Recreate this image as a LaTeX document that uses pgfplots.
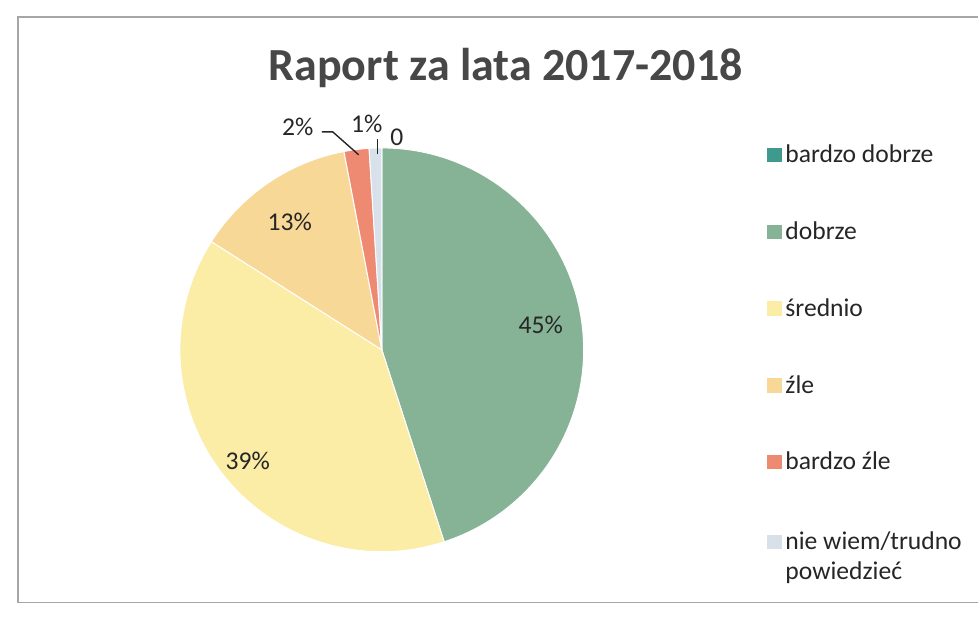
\documentclass[border=0pt]{standalone}
\usepackage{pgfplots}
\pgfplotsset{compat=1.18}
\usepackage{fontspec}
\setmainfont{Carlito}

\definecolor{cBD}{HTML}{3F9A8E}
\definecolor{cD}{HTML}{86B396}
\definecolor{cS}{HTML}{FBECA6}
\definecolor{cZ}{HTML}{F8D897}
\definecolor{cBZ}{HTML}{EE8A72}
\definecolor{cNW}{HTML}{D8E0EA}
\definecolor{txt}{HTML}{262626}

\begin{document}
\begin{tikzpicture}
\begin{axis}[
  width=489.5pt,height=309pt,scale only axis,
  xmin=0,xmax=979,ymin=0,ymax=618,
  hide axis,clip=false,
  font=\fontsize{12.8}{15}\selectfont,
  legend style={at={(0.7835,0.772)},anchor=north west,draw=none,
    inner sep=0pt,row sep=24pt,
    cells={anchor=base west,text=txt}},
  legend image code/.code={\fill[#1] (0,0.02cm) rectangle (0.24cm,0.26cm);},
]
% pie: values in percent, clockwise from the top
\gdef\pieA{90}
\foreach \v/\col in {0/cBD,45/cD,39/cS,13/cZ,2/cBZ,1/cNW}{
  \pgfmathsetmacro\pieB{\pieA-3.6*\v}
  \edef\temp{\noexpand\fill[\col,draw=white,line width=0.5pt]
    (axis cs:382,268) -- ++(\pieA:101pt)
    arc[start angle=\pieA,end angle=\pieB,radius=101pt] -- cycle;}
  \temp
  \xdef\pieA{\pieB}
}

\addlegendimage{cBD}\addlegendentry{bardzo dobrze}
\addlegendimage{cD}\addlegendentry{dobrze}
\addlegendimage{cS}\addlegendentry{średnio}
\addlegendimage{cZ}\addlegendentry{źle}
\addlegendimage{cBZ}\addlegendentry{bardzo źle}
\addlegendimage{cNW}\addlegendentry{\begin{tabular}[t]{@{}l@{}}nie wiem/trudno\\powiedzieć\end{tabular}}

% data labels
\node[text=txt] at (axis cs:541,293) {45\%};
\node[text=txt] at (axis cs:248,157) {39\%};
\node[text=txt] at (axis cs:290,396) {13\%};
\node[text=txt] at (axis cs:298,491) {2\%};
\node[text=txt] at (axis cs:367,494) {1\%};
\node[text=txt] at (axis cs:397,481) {0};
\draw[txt,line width=0.7pt] (axis cs:322,486) -- (axis cs:333,486) -- (axis cs:359,463);
\draw[txt,line width=0.7pt] (axis cs:378,479) -- (axis cs:378,464);

% title
\node[text=txt!85!white,font=\bfseries\fontsize{23}{28}\selectfont] at (axis cs:506,550) {Raport za lata 2017-2018};

% chart frame
\draw[gray!70,line width=0.6pt] (axis cs:979,601) -- (axis cs:18,601) -- (axis cs:18,15) -- (axis cs:979,15);
\path (axis cs:0,0) rectangle (axis cs:979,618);
\end{axis}
\end{tikzpicture}
\end{document}
